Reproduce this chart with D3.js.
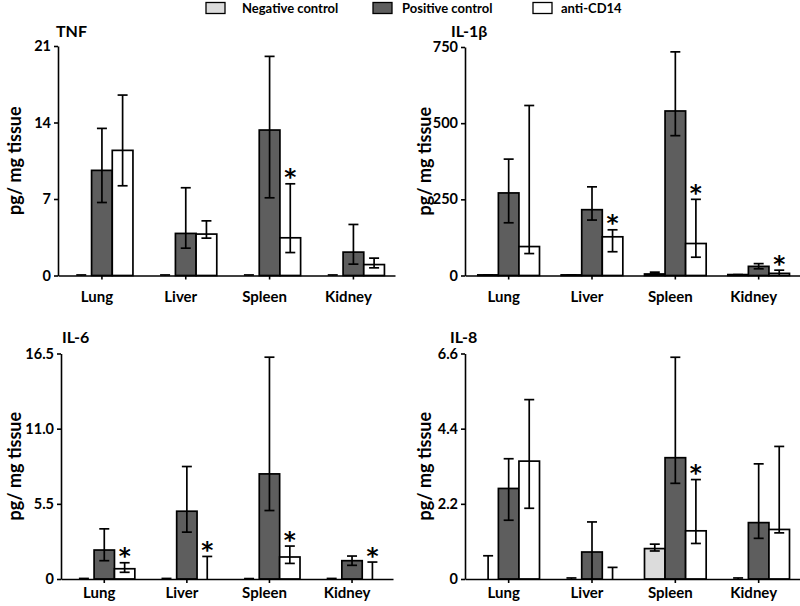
<!DOCTYPE html>
<html>
<head>
<meta charset="utf-8">
<script src="https://cdn.jsdelivr.net/npm/d3@7"></script>
<style>
  body { margin: 0; background: #fff; }
  svg text { font-family: Lato, "Open Sans", sans-serif; font-weight: bold; fill: #000; }
</style>
</head>
<body>
<svg id="chart" width="800" height="606"></svg>
<script>
// ---------- data ----------
const categories = ["Lung", "Liver", "Spleen", "Kidney"];
const seriesNames = ["Negative control", "Positive control", "anti-CD14"];
const seriesColors = ["#dcdcdc", "#5e5e5e", "#ffffff"];

// TNF  (rows: negative, positive, anti-CD14)
const tnfTicks = [0, 7, 14, 21];
const tnfTickLabels = ["0", "7", "14", "21"];
const tnfValues = [[0, 0, 0, 0], [9.62, 3.85, 13.31, 2.14], [11.45, 3.79, 3.45, 1.0]];
const tnfLow    = [[0, 0, 0, 0], [6.68, 2.5, 7.11, 1.04], [8.21, 3.42, 2.1, 0.7]];
const tnfHigh   = [[0.05, 0.05, 0.05, 0.05], [13.46, 8.03, 20.05, 4.67], [16.51, 5.0, 8.39, 1.59]];
const tnfStars  = [[0, 0, 0, 0], [0, 0, 0, 0], [0, 0, 1, 0]];

// IL-1β
const il1Ticks = [0, 250, 500, 750];
const il1TickLabels = ["0", "250", "500", "750"];
const il1Values = [[2, 2, 5, 3], [271, 216, 540, 30], [95, 127, 105, 7]];
const il1Low    = [[0, 0, 5, 0], [173, 182, 459, 22], [72, 78, 60, 0]];
const il1High   = [[2, 2, 11, 3], [382, 291, 734, 39], [558, 150, 250, 17.5]];
const il1Stars  = [[0, 0, 0, 0], [0, 0, 0, 0], [0, 1, 1, 1]];

// IL-6
const il6Ticks = [0, 5.5, 11, 16.5];
const il6TickLabels = ["0", "5.5", "11.0", "16.5"];
const il6Values = [[0, 0, 0, 0], [2.12, 4.96, 7.69, 1.34], [0.75, 0, 1.61, 0]];
const il6Low    = [[0, 0, 0, 0], [1.34, 3.43, 5.01, 1.0], [0.49, 0, 1.14, 0]];
const il6High   = [[0.04, 0.04, 0.03, 0.04], [3.67, 8.23, 16.23, 1.68], [1.19, 1.65, 2.41, 1.24]];
const il6Stars  = [[0, 0, 0, 0], [0, 0, 0, 0], [1, 1, 1, 1]];

// IL-8
const il8Ticks = [0, 2.2, 4.4, 6.6];
const il8TickLabels = ["0", "2.2", "4.4", "6.6"];
const il8Values = [[0, 0, 0.89, 0], [2.65, 0.79, 3.55, 1.65], [3.45, 0, 1.41, 1.45]];
const il8Low    = [[0, 0, 0.82, 0], [1.72, 0, 2.8, 1.19], [2.07, 0, 1.04, 1.35]];
const il8High   = [[0.68, 0.03, 1.02, 0.03], [3.52, 1.67, 6.49, 3.37], [5.25, 0.34, 2.91, 3.88]];
const il8Stars  = [[0, 0, 0, 0], [0, 0, 0, 0], [0, 0, 1, 0]];

// ---------- drawing ----------
const svg = d3.select("#chart");

const panels = [
  { title: "TNF", ticks: tnfTicks, labels: tnfTickLabels, values: tnfValues, low: tnfLow, high: tnfHigh, stars: tnfStars,
    x0: 58, x1: 395, yTop: 46, yBot: 275.5, titleX: 56, titleY: 37, ylabX: 21, catGap: 27 },
  { title: "IL-1β", ticks: il1Ticks, labels: il1TickLabels, values: il1Values, low: il1Low, high: il1High, stars: il1Stars,
    x0: 465, x1: 800, yTop: 47, yBot: 275.5, titleX: 451, titleY: 37, ylabX: 431, catGap: 27 },
  { title: "IL-6", ticks: il6Ticks, labels: il6TickLabels, values: il6Values, low: il6Low, high: il6High, stars: il6Stars,
    x0: 61, x1: 393, yTop: 353.5, yBot: 579, titleX: 62, titleY: 343, ylabX: 21, catGap: 19.5 },
  { title: "IL-8", ticks: il8Ticks, labels: il8TickLabels, values: il8Values, low: il8Low, high: il8High, stars: il8Stars,
    x0: 465, x1: 800, yTop: 353.5, yBot: 579, titleX: 450, titleY: 343, ylabX: 431, catGap: 19.5 }
];

panels.forEach(p => {
  const g = svg.append("g");
  const x = d3.scaleBand().domain(categories).range([p.x0, p.x1])
    .paddingInner(0.26).paddingOuter(0.14).align(0.55);
  const xs = d3.scaleBand().domain(seriesNames).range([0, x.bandwidth()]);
  const y = d3.scaleLinear().domain([0, p.ticks[p.ticks.length - 1]]).range([p.yBot, p.yTop]);

  // bars
  seriesNames.forEach((s, si) => {
    categories.forEach((c, ci) => {
      const v = p.values[si][ci];
      const h = p.yBot - y(v);
      if (h >= 0.5) {
        g.append("rect")
          .attr("x", x(c) + xs(s))
          .attr("y", y(v))
          .attr("width", xs.bandwidth())
          .attr("height", h)
          .attr("fill", seriesColors[si])
          .attr("stroke", "#000")
          .attr("stroke-width", 1.7);
      }
    });
  });

  // error bars and stars
  seriesNames.forEach((s, si) => {
    categories.forEach((c, ci) => {
      const hi = p.high[si][ci];
      const lo = p.low[si][ci];
      const cx = x(c) + xs(s) + xs.bandwidth() / 2;
      const cw = 5;
      g.append("line").attr("x1", cx).attr("x2", cx).attr("y1", y(lo)).attr("y2", y(hi))
        .attr("stroke", "#000").attr("stroke-width", 1.7);
      g.append("line").attr("x1", cx - cw).attr("x2", cx + cw).attr("y1", y(hi)).attr("y2", y(hi))
        .attr("stroke", "#000").attr("stroke-width", 1.7);
      if (lo > 0) {
        g.append("line").attr("x1", cx - cw).attr("x2", cx + cw).attr("y1", y(lo)).attr("y2", y(lo))
          .attr("stroke", "#000").attr("stroke-width", 1.7);
      }
      if (p.stars[si][ci]) {
        g.append("text").attr("x", cx).attr("y", y(hi) + 1.5)
          .attr("text-anchor", "middle")
          .style("font-family", "'DejaVu Sans', sans-serif")
          .style("font-size", "23px").text("*");
      }
    });
  });

  // y axis
  const ya = d3.axisLeft(y).tickValues(p.ticks).tickSize(4).tickSizeOuter(0)
    .tickFormat((d, i) => p.labels[i]).tickPadding(3);
  const yg = g.append("g").attr("transform", `translate(${p.x0},0)`).call(ya);
  yg.selectAll("path,line").attr("stroke", "#000").attr("stroke-width", 1.6);
  yg.selectAll("text").style("font-size", "14.5px").style("font-family", "Lato, sans-serif")
    .style("font-weight", "bold").attr("fill", "#000");

  // x axis
  const xa = d3.axisBottom(x).tickSize(4).tickSizeOuter(0).tickPadding(p.catGap - 15);
  const xg = g.append("g").attr("transform", `translate(0,${p.yBot})`).call(xa);
  xg.selectAll("path,line").attr("stroke", "#000").attr("stroke-width", 1.6);
  xg.selectAll("text").style("font-size", "15px").style("font-family", "Lato, sans-serif")
    .style("font-weight", "bold").attr("fill", "#000").attr("dx", "-5px");

  // title
  g.append("text").attr("x", p.titleX).attr("y", p.titleY).style("font-size", "16px").text(p.title);

  // y label
  g.append("text")
    .attr("transform", `translate(${p.ylabX},${(p.yTop + p.yBot) / 2}) rotate(-90)`)
    .attr("text-anchor", "middle").style("font-size", "18px").text("pg/ mg tissue");
});

// legend
const legendX = [206, 373, 533];
const legendTextX = [242, 402, 561];
const lg = svg.append("g");
seriesNames.forEach((s, i) => {
  lg.append("rect").attr("x", legendX[i]).attr("y", 2.5).attr("width", 19).attr("height", 11)
    .attr("fill", seriesColors[i]).attr("stroke", "#000").attr("stroke-width", 1.3);
  lg.append("text").attr("x", legendTextX[i]).attr("y", 12.5)
    .style("font-size", "13px").text(s);
});
</script>
</body>
</html>
